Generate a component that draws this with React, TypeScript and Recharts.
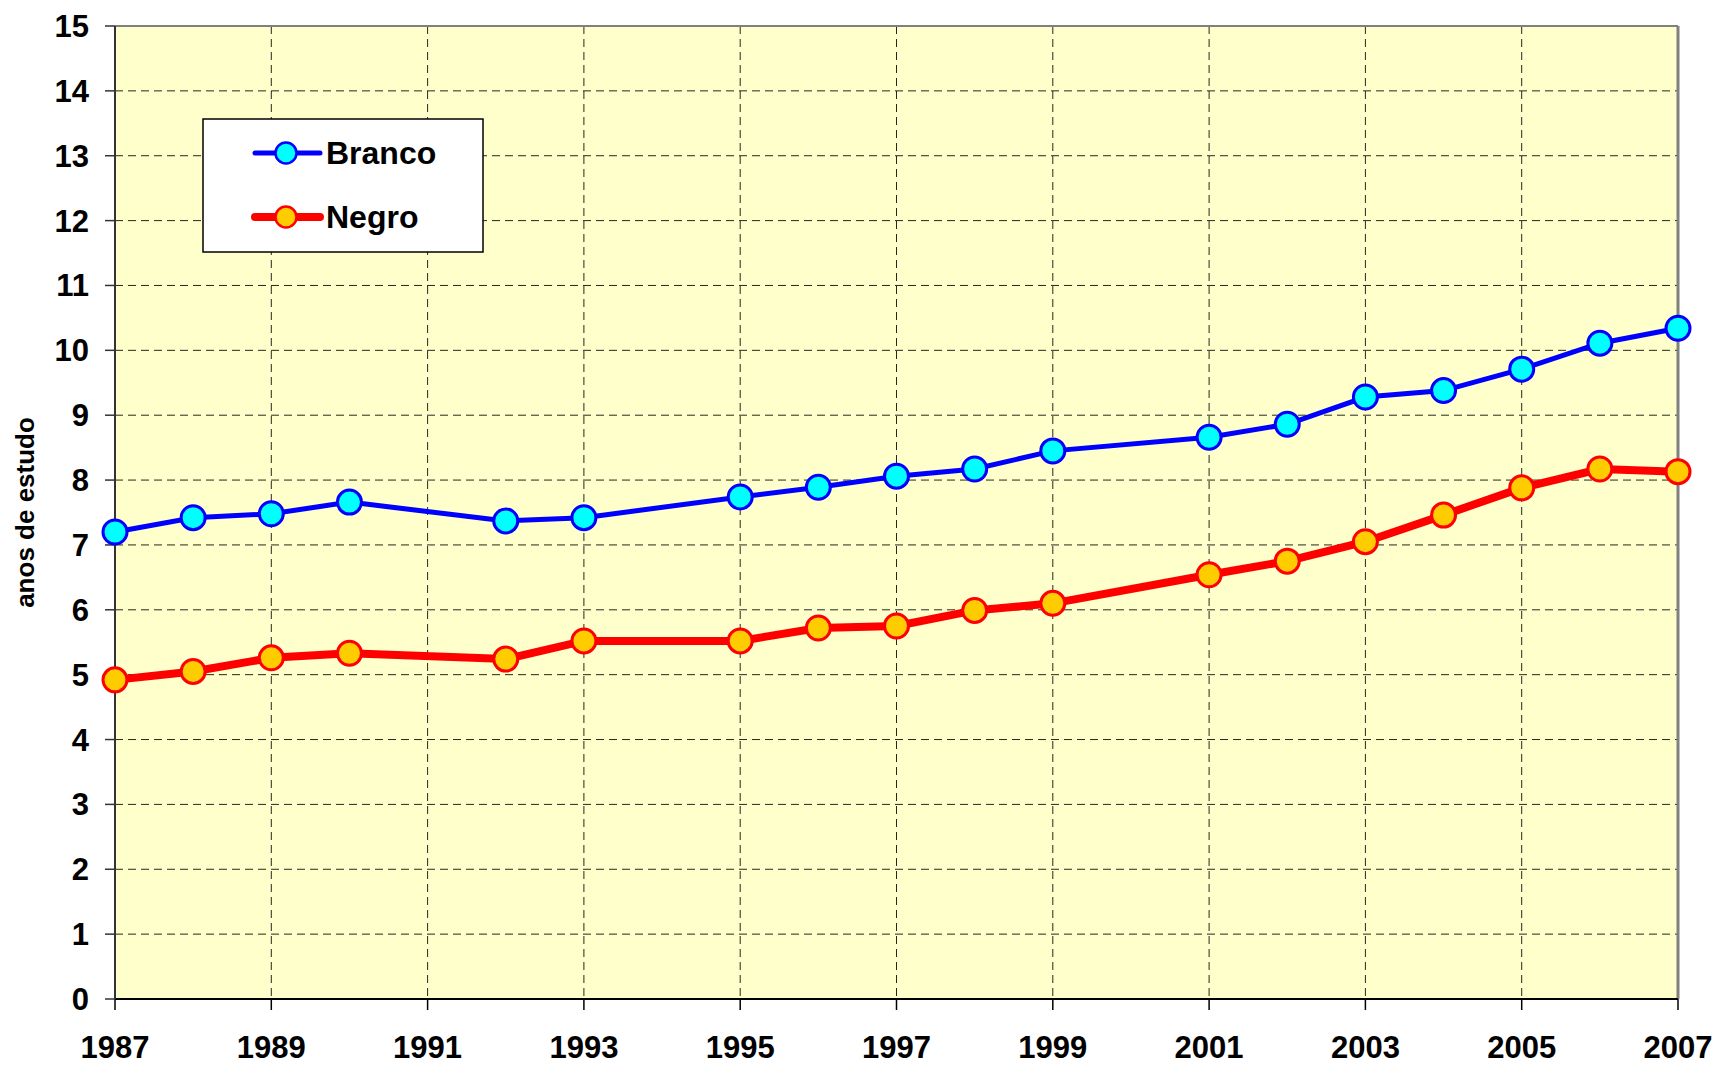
import { CartesianGrid, Line, LineChart, ReferenceLine, XAxis, YAxis } from 'recharts'

// anos de estudo por cor/raça, PNAD 1987-2007 (sem 1991 e 1994)
const years = [1987, 1988, 1989, 1990, 1992, 1993, 1995, 1996, 1997, 1998, 1999, 2001, 2002, 2003, 2004, 2005, 2006, 2007]
const branco = [7.2, 7.42, 7.48, 7.66, 7.37, 7.42, 7.74, 7.89, 8.06, 8.17, 8.45, 8.66, 8.86, 9.28, 9.38, 9.71, 10.11, 10.34]
const negro = [4.92, 5.05, 5.26, 5.33, 5.24, 5.52, 5.52, 5.72, 5.75, 5.99, 6.1, 6.54, 6.75, 7.05, 7.46, 7.88, 8.17, 8.13]

const xTicks = [1987, 1989, 1991, 1993, 1995, 1997, 1999, 2001, 2003, 2005, 2007]
const yTicks = [0, 1, 2, 3, 4, 5, 6, 7, 8, 9, 10, 11, 12, 13, 14, 15]
const seriesNames = ['Branco', 'Negro']
const yLabel = 'anos de estudo'

const font = 'Arial, "Liberation Sans", sans-serif'

const rows = years.map((year, i) => ({ year, branco: branco[i], negro: negro[i] }))

const styles = {
  Branco: { line: '#0000ff', width: 5, fill: '#00ffff' },
  Negro: { line: '#ff0000', width: 8, fill: '#ffcc00' },
}

function XTick({ x, y, payload }: any) {
  return (
    <text x={x} y={y + 46} textAnchor="middle" fontSize={31} fontWeight="bold" fontFamily={font} fill="#000">
      {payload.value}
    </text>
  )
}

function YTick({ x, y, payload }: any) {
  return (
    <text x={x - 14} y={y + 11} textAnchor="end" fontSize={31} fontWeight="bold" fontFamily={font} fill="#000">
      {payload.value}
    </text>
  )
}

// rotated axis title, centred on the plot's vertical middle
function YTitle({ viewBox }: any) {
  const cy = viewBox.y + viewBox.height / 2
  return (
    <text
      x={25}
      y={cy}
      transform={`rotate(-90, 25, ${cy})`}
      textAnchor="middle"
      dominantBaseline="central"
      fontSize={26}
      fontWeight="bold"
      fontFamily={font}
      fill="#000"
    >
      {yLabel}
    </text>
  )
}

function LegendBox() {
  return (
    <svg width={282} height={135} style={{ position: 'absolute', left: 202, top: 118 }}>
      <rect x={1} y={1} width={280} height={133} fill="#fff" stroke="#000" strokeWidth={1.5} />
      {seriesNames.map((name, i) => {
        const s = styles[name as keyof typeof styles]
        const cy = 35 + i * 64
        return (
          <g key={name}>
            <line x1={53} x2={118} y1={cy} y2={cy} stroke={s.line} strokeWidth={s.width} strokeLinecap="round" />
            <circle cx={84} cy={cy} r={10.5} fill={s.fill} stroke={s.line} strokeWidth={2.5} />
            <text x={124} y={cy + 11} fontSize={32} fontWeight="bold" fontFamily={font} fill="#000">
              {name}
            </text>
          </g>
        )
      })}
    </svg>
  )
}

export default function App() {
  return (
    <div style={{ position: 'absolute', left: 0, top: 0, width: 1718, height: 1066, background: '#fff' }}>
      <LineChart width={1718} height={1066} data={rows} margin={{ top: 26, right: 40, bottom: 0, left: 0 }}>
        <CartesianGrid
          fill="#ffffcc"
          stroke="#000"
          strokeOpacity={0.85}
          strokeDasharray="8 5"
          horizontalValues={yTicks}
          verticalValues={xTicks}
        />
        <XAxis
          dataKey="year"
          type="number"
          domain={[1987, 2007]}
          ticks={xTicks}
          interval={0}
          height={67}
          tickSize={11}
          tick={<XTick />}
          axisLine={{ stroke: '#000', strokeWidth: 2 }}
          tickLine={{ stroke: '#000', strokeWidth: 1.5 }}
        />
        <YAxis
          type="number"
          domain={[0, 15]}
          ticks={yTicks}
          interval={0}
          width={115}
          tickSize={10}
          tick={<YTick />}
          axisLine={{ stroke: '#333', strokeWidth: 2 }}
          tickLine={{ stroke: '#333', strokeWidth: 1.5 }}
          label={{ content: <YTitle /> }}
        />
        <ReferenceLine y={15} stroke="#808080" strokeWidth={2} />
        <ReferenceLine x={2007} stroke="#808080" strokeWidth={3} />
        <Line
          dataKey="branco"
          name={seriesNames[0]}
          stroke={styles.Branco.line}
          strokeWidth={styles.Branco.width}
          dot={{ r: 12, fill: styles.Branco.fill, stroke: styles.Branco.line, strokeWidth: 3 }}
          isAnimationActive={false}
        />
        <Line
          dataKey="negro"
          name={seriesNames[1]}
          stroke={styles.Negro.line}
          strokeWidth={styles.Negro.width}
          dot={{ r: 12, fill: styles.Negro.fill, stroke: styles.Negro.line, strokeWidth: 3 }}
          isAnimationActive={false}
        />
      </LineChart>
      <LegendBox />
    </div>
  )
}
